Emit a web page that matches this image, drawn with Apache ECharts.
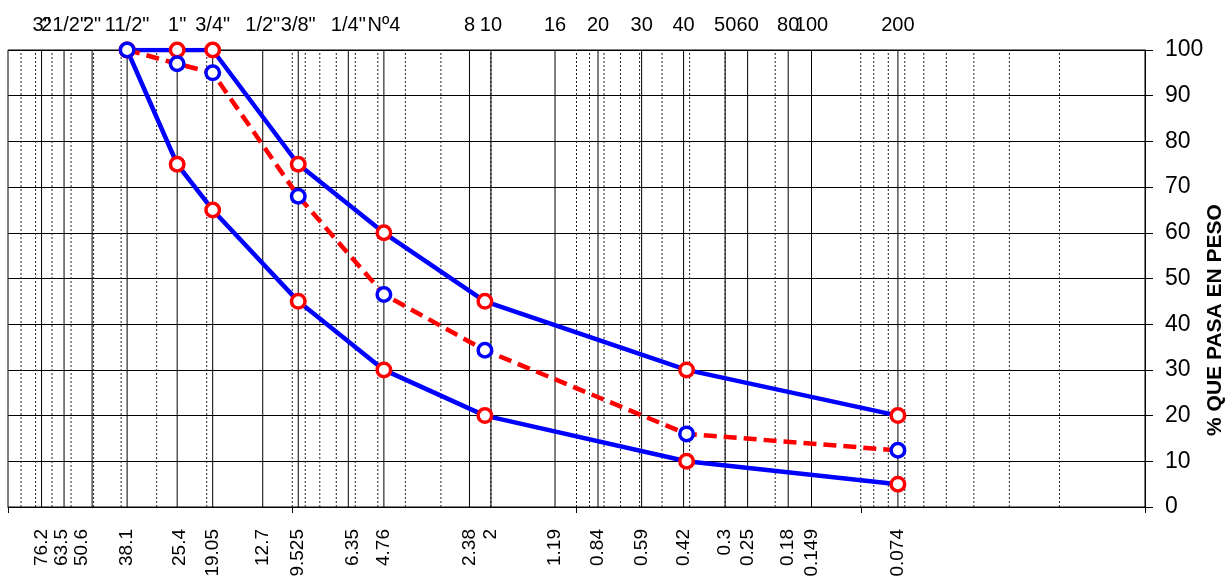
<!DOCTYPE html>
<html>
<head>
<meta charset="utf-8">
<script src="https://cdn.jsdelivr.net/npm/echarts@6/dist/echarts.min.js"></script>
<style>
html,body{margin:0;padding:0;background:#fff;}
#chart{width:1227px;height:581px;}
</style>
</head>
<body>
<div id="chart"></div>
<script>
// Sieve sizes (mm) and their names
const sieveSizesMm = [76.2, 63.5, 50.6, 38.1, 25.4, 19.05, 12.7, 9.525, 6.35, 4.76, 2.38, 2, 1.19, 0.84, 0.59, 0.42, 0.3, 0.25, 0.18, 0.149, 0.074];
const sieveNames = ['3"', '21/2"', '2"', '11/2"', '1"', '3/4"', '1/2"', '3/8"', '1/4"', 'Nº4', '8', '10', '16', '20', '30', '40', '50', '60', '80', '100', '200'];
const sizeLabels = ['76.2', '63.5', '50.6', '38.1', '25.4', '19.05', '12.7', '9.525', '6.35', '4.76', '2.38', '2', '1.19', '0.84', '0.59', '0.42', '0.3', '0.25', '0.18', '0.149', '0.074'];

// Log minor gridlines
const minorGridValues = [90, 80, 70, 60, 50, 40, 30, 20, 10, 9, 8, 7, 6, 5, 4, 3, 2, 1, 0.9, 0.8, 0.7, 0.6, 0.5, 0.4, 0.3, 0.2, 0.1, 0.09, 0.08, 0.07, 0.06, 0.05, 0.04, 0.03, 0.02];

// Curves (sizes as read from the plotted point positions)
const curveSizes = [38.1, 25.4, 19.05, 9.525, 4.76, 2.1, 0.41, 0.074];
const upperLimit = [100, 100, 100, 75, 60, 45, 30, 20];
const lowerLimit = [100, 75, 65, 45, 30, 20, 10, 5];
const actualPassing = [100, 97, 95, 68, 46.5, 34.3, 16, 12.4];

const yTitle = '% QUE PASA EN PESO';
const FONT = "'Liberation Sans', Arial, sans-serif";

const chart = echarts.init(document.getElementById('chart'), null, {renderer: 'canvas'});

function pairs(xs, ys) { return xs.map((x, i) => [x, ys[i]]); }

function vLineSeries(values, style, z) {
  return {
    type: 'custom',
    z: z,
    silent: true,
    data: values.map(v => [v, 0]),
    encode: {x: 0, y: 1},
    renderItem: function (params, api) {
      const v = api.value(0);
      const p0 = api.coord([v, 0]);
      const p1 = api.coord([v, 100]);
      return {
        type: 'line',
        shape: {x1: p0[0], y1: p0[1], x2: p1[0], y2: p1[1]},
        style: Object.assign({fill: null}, style)
      };
    }
  };
}

// small horizontal nudges of crowded bottom labels (pixels)
const bottomLabelNudge = {'63.5': -2, '50.6': -10, '25.4': 3, '6.35': 4};

const markerBase = {symbol: 'circle', symbolSize: 13.5, showAllSymbol: true};

const option = {
  animation: false,
  backgroundColor: '#fff',
  grid: {left: 8, right: 82, top: 50, bottom: 74, show: true, borderColor: '#000', borderWidth: 1, backgroundColor: 'transparent'},
  xAxis: {
    type: 'log', logBase: 10, min: 0.01, max: 100, inverse: true,
    axisLine: {show: true, lineStyle: {color: '#000', width: 1}},
    axisTick: {show: true, inside: false, length: 6, lineStyle: {color: '#000'}},
    axisLabel: {show: false},
    splitLine: {show: false},
    minorTick: {show: false}, minorSplitLine: {show: false}
  },
  yAxis: {
    type: 'value', position: 'right', min: 0, max: 100, interval: 10,
    axisLine: {show: true, lineStyle: {color: '#000', width: 1}},
    axisTick: {show: true, inside: false, length: 8, lineStyle: {color: '#000'}},
    axisLabel: {color: '#000', fontSize: 23, margin: 20, fontFamily: FONT},
    splitLine: {show: true, lineStyle: {color: '#000', width: 1}}
  },
  graphic: [{
    type: 'text', x: 1215, y: 320, rotation: Math.PI / 2,
    style: {text: yTitle, font: 'bold 21px ' + FONT, fill: '#000', align: 'center', verticalAlign: 'middle'}
  }],
  series: [
    vLineSeries(minorGridValues, {stroke: '#222', lineWidth: 1, lineDash: [2, 2]}, 1),
    vLineSeries(sieveSizesMm, {stroke: '#000', lineWidth: 1}, 2),
    {
      type: 'custom', z: 3, silent: true,
      data: sieveSizesMm.map(v => [v, 0]),
      encode: {x: 0, y: 1},
      renderItem: function (params, api) {
        const i = params.dataIndex;
        const v = api.value(0);
        const pt = api.coord([v, 100]);
        const pb = api.coord([v, 0]);
        const nudge = bottomLabelNudge[sizeLabels[i]] || 0;
        return {
          type: 'group',
          children: [
            {type: 'text', x: pt[0], y: pt[1] - 25,
              style: {text: sieveNames[i], font: '20px ' + FONT, fill: '#000', align: 'center', verticalAlign: 'middle'}},
            {type: 'text', x: pb[0] + nudge, y: pb[1] + 22, rotation: Math.PI / 2,
              style: {text: sizeLabels[i], font: '19px ' + FONT, fill: '#000', align: 'right', verticalAlign: 'middle'}}
          ]
        };
      }
    },
    Object.assign({
      name: 'Límite superior', type: 'line', z: 5,
      data: pairs(curveSizes, upperLimit),
      lineStyle: {color: '#0000FF', width: 4.5},
      itemStyle: {color: '#fff', borderColor: '#FF0000', borderWidth: 3.5}
    }, markerBase),
    Object.assign({
      name: 'Límite inferior', type: 'line', z: 5,
      data: pairs(curveSizes, lowerLimit),
      lineStyle: {color: '#0000FF', width: 4.5},
      itemStyle: {color: '#fff', borderColor: '#FF0000', borderWidth: 3.5}
    }, markerBase),
    Object.assign({
      name: 'Granulometría', type: 'line', z: 6,
      data: pairs(curveSizes, actualPassing),
      lineStyle: {color: '#FF0000', width: 4.5, type: [13, 7]},
      itemStyle: {color: '#fff', borderColor: '#0000FF', borderWidth: 3.5}
    }, markerBase)
  ]
};
chart.setOption(option);
</script>
</body>
</html>
